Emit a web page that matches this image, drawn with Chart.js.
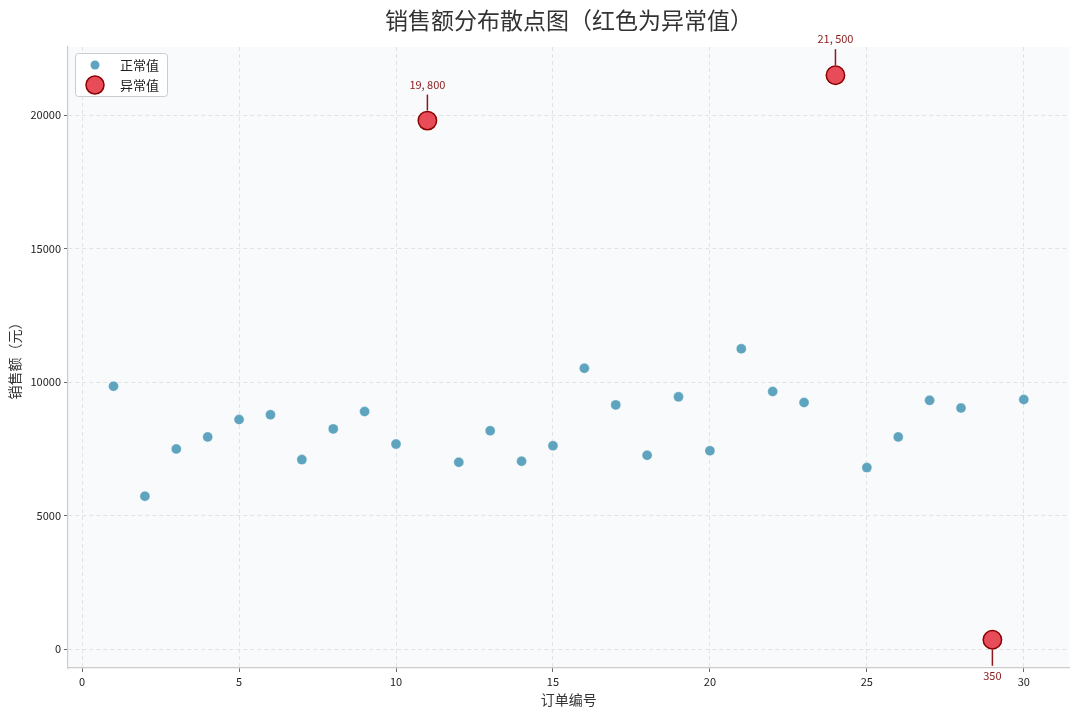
<!DOCTYPE html>
<html>
<head>
<meta charset="utf-8">
<script src="https://cdn.jsdelivr.net/npm/chart.js@4.4.0/dist/chart.umd.min.js"></script>
<style>
  html, body { margin: 0; padding: 0; background: #fff; }
  #wrap { width: 1080px; height: 717px; }
</style>
</head>
<body>
<div id="wrap"><canvas id="scatterChart" width="1080" height="717"></canvas></div>
<script>
// Data
const orderIds = [1, 2, 3, 4, 5, 6, 7, 8, 9, 10, 12, 13, 14, 15, 16, 17, 18, 19, 20, 21, 22, 23, 25, 26, 27, 28, 30];
const salesValues = [9850, 5730, 7500, 7950, 8600, 8780, 7100, 8250, 8900, 7680, 7000, 8180, 7040, 7620, 10520, 9150, 7260, 9450, 7430, 11250, 9650, 9240, 6800, 7950, 9320, 9030, 9350];
const outlierIds = [11, 24, 29];
const outlierValues = [19800, 21500, 350];
const xTicks = [0, 5, 10, 15, 20, 25, 30];
const yTicks = [0, 5000, 10000, 15000, 20000];

const FONT = '"Noto Sans CJK SC", "Noto Sans", sans-serif';

// plot background, title, legend and outlier labels
const decorPlugin = {
    id: 'decor',
    beforeDraw(chart) {
        const { ctx, chartArea: a } = chart;
        ctx.save();
        ctx.fillStyle = '#f8fafc';
        ctx.fillRect(a.left, a.top, a.right - a.left, a.bottom - a.top);
        ctx.restore();
    },
    afterDatasetsDraw(chart) {
        const { ctx } = chart;
        ctx.save();

        // outlier labels
        const meta = chart.getDatasetMeta(1);
        meta.data.forEach((pt, i) => {
            const v = outlierValues[i];
            const below = v < 5000;
            const dir = below ? 1 : -1;
            ctx.strokeStyle = '#8b1a1a';
            ctx.lineWidth = 1.5;
            ctx.beginPath();
            ctx.moveTo(pt.x, pt.y + dir * 10);
            ctx.lineTo(pt.x, pt.y + dir * 26);
            ctx.stroke();
            ctx.fillStyle = '#8b1a1a';
            ctx.font = '11px ' + FONT;
            ctx.textAlign = 'center';
            ctx.textBaseline = 'middle';
            ctx.fillText(v.toLocaleString('en-US').replace(',', ', '), pt.x, pt.y + dir * 36);
        });

        // title
        ctx.fillStyle = '#333';
        ctx.font = '23px ' + FONT;
        ctx.textAlign = 'center';
        ctx.textBaseline = 'middle';
        ctx.fillText('销售额分布散点图（红色为异常值）', 569, 20);

        // legend
        ctx.fillStyle = 'rgba(255,255,255,0.9)';
        ctx.strokeStyle = '#cccccc';
        ctx.lineWidth = 1;
        ctx.beginPath();
        ctx.roundRect(75.5, 53.5, 92, 43, 3);
        ctx.fill();
        ctx.stroke();

        ctx.fillStyle = '#5fa4bf';
        ctx.beginPath();
        ctx.arc(95, 65, 4.5, 0, Math.PI * 2);
        ctx.fill();

        ctx.fillStyle = 'rgba(230,57,70,0.9)';
        ctx.strokeStyle = '#8b0000';
        ctx.lineWidth = 1.5;
        ctx.beginPath();
        ctx.arc(95, 85, 9, 0, Math.PI * 2);
        ctx.fill();
        ctx.stroke();

        ctx.fillStyle = '#222';
        ctx.font = '13px ' + FONT;
        ctx.textAlign = 'left';
        ctx.fillText('正常值', 120, 65);
        ctx.fillText('异常值', 120, 85);

        ctx.restore();
    }
};

const gridStyle = {
    color: '#dddddd',
    tickBorderDash: [],
    tickColor: '#444',
    tickLength: 4,
    lineWidth: 0.8,
};

const ctx = document.getElementById('scatterChart').getContext('2d');
const scatterChart = new Chart(ctx, {
    type: 'scatter',
    data: {
        datasets: [
            {
                label: '正常值',
                data: orderIds.map((x, i) => ({ x: x, y: salesValues[i] })),
                backgroundColor: '#5fa4bf',
                borderColor: 'rgba(255,255,255,0.6)',
                borderWidth: 0.5,
                pointRadius: 5,
            },
            {
                label: '异常值',
                data: outlierIds.map((x, i) => ({ x: x, y: outlierValues[i] })),
                backgroundColor: 'rgba(230,57,70,0.9)',
                borderColor: '#8b0000',
                borderWidth: 1.5,
                pointRadius: 9.2,
            },
        ],
    },
    options: {
        responsive: false,
        animation: false,
        events: [],
        layout: { padding: { top: 47, right: 10, left: 0, bottom: 0 } },
        plugins: {
            legend: { display: false },
            title: { display: false },
            tooltip: { enabled: false },
        },
        scales: {
            x: {
                type: 'linear',
                min: -0.45,
                max: 31.45,
                afterBuildTicks(scale) {
                    scale.ticks = xTicks.map(v => ({ value: v }));
                },
                afterFit(scale) {
                    scale.height = 49;
                },
                grid: gridStyle,
                border: { display: true, color: '#cccccc', width: 1.2, dash: [4, 3] },
                ticks: {
                    color: '#222',
                    font: { family: FONT, size: 11 },
                    padding: 3,
                    maxRotation: 0,
                    callback: v => String(v),
                },
                title: {
                    display: true,
                    text: '订单编号',
                    color: '#333',
                    font: { family: FONT, size: 14 },
                    padding: { top: 0, bottom: 9 },
                },
            },
            y: {
                type: 'linear',
                min: -707,
                max: 22557,
                afterBuildTicks(scale) {
                    scale.ticks = yTicks.map(v => ({ value: v }));
                },
                afterFit(scale) {
                    scale.width = 68;
                },
                grid: gridStyle,
                border: { display: true, color: '#cccccc', width: 1.2, dash: [4, 3] },
                ticks: {
                    color: '#222',
                    font: { family: FONT, size: 11 },
                    padding: 3,
                    callback: v => String(v),
                },
                title: {
                    display: true,
                    text: '销售额（元）',
                    color: '#333',
                    font: { family: FONT, size: 14 },
                    padding: { top: 6, bottom: 4 },
                },
            },
        },
    },
    plugins: [decorPlugin],
});
</script>
</body>
</html>
